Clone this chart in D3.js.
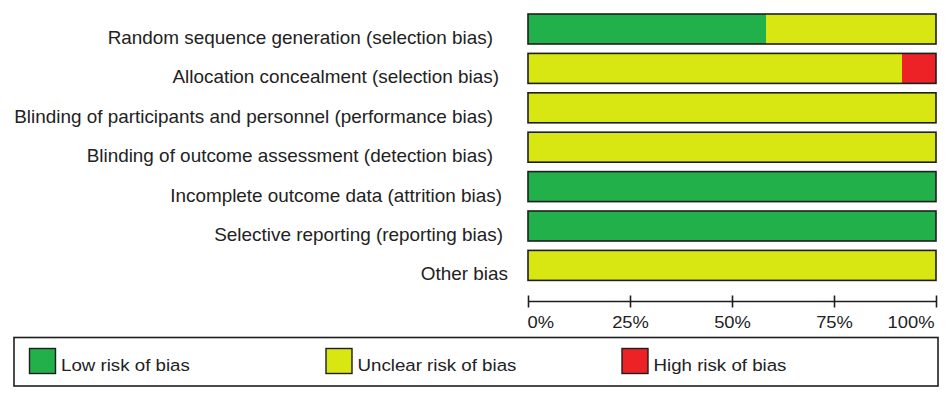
<!DOCTYPE html>
<html>
<head>
<meta charset="utf-8">
<script src="https://cdn.jsdelivr.net/npm/d3@7"></script>
<style>
  html, body { margin: 0; padding: 0; background: #fff; }
  svg { display: block; font-family: Arial, "Liberation Sans", sans-serif; }
</style>
</head>
<body>
<svg id="chart" width="947" height="401"></svg>
<script>
// ---- data ----
const domains = [
  "Random sequence generation (selection bias)",
  "Allocation concealment (selection bias)",
  "Blinding of participants and personnel (performance bias)",
  "Blinding of outcome assessment (detection bias)",
  "Incomplete outcome data (attrition bias)",
  "Selective reporting (reporting bias)",
  "Other bias"
];
const lowRisk     = [7/12, 0, 0, 0, 1, 1, 0];
const unclearRisk = [5/12, 11/12, 1, 1, 0, 0, 1];
const highRisk    = [0, 1/12, 0, 0, 0, 0, 0];
const tickValues  = [0, 0.25, 0.5, 0.75, 1];
const legendLabels = ["Low risk of bias", "Unclear risk of bias", "High risk of bias"];

// ---- layout / style ----
const colors = ["#22b04b", "#d8e612", "#ec2227"];
const labelRight = [493, 499, 493, 493, 502, 503, 508];
const stretch = 1.08;
const svg = d3.select("#chart");
svg.append("rect").attr("width", 947).attr("height", 401).attr("fill", "#fff");

const x = d3.scaleLinear().domain([0, 1]).range([528, 936]);
const y = d3.scaleBand().domain(domains).range([14, 280.4]).paddingInner(0.2386).paddingOuter(0);

const series = [lowRisk, unclearRisk, highRisk];
const rows = domains.map((d, i) => {
  let acc = 0;
  const segs = series.map((s, k) => {
    const seg = { k, x0: acc, x1: acc + s[i] };
    acc += s[i];
    return seg;
  }).filter(s => s.x1 > s.x0);
  return { name: d, segs, i };
});

const rowG = svg.selectAll("g.row").data(rows).join("g").attr("class", "row");
rowG.selectAll("rect.seg").data(d => d.segs.map(s => ({ ...s, name: d.name })))
  .join("rect").attr("class", "seg")
  .attr("x", s => x(s.x0))
  .attr("width", s => x(s.x1) - x(s.x0))
  .attr("y", s => y(s.name))
  .attr("height", y.bandwidth())
  .attr("fill", s => colors[s.k]);
rowG.append("rect")
  .attr("x", x(0)).attr("width", x(1) - x(0))
  .attr("y", d => y(d.name)).attr("height", y.bandwidth())
  .attr("fill", "none").attr("stroke", "#1e1e1e").attr("stroke-width", 1.6);
rowG.append("text")
  .attr("transform", d => `translate(${labelRight[d.i]},${y(d.name) + y.bandwidth()}) scale(${stretch},1)`)
  .attr("text-anchor", "end")
  .attr("font-size", 17.5)
  .attr("fill", "#222")
  .text(d => d.name);

// ---- axis ----
const axis = d3.axisBottom(x).tickValues(tickValues).tickFormat(d3.format(".0%")).tickSize(12).tickPadding(5);
const ax = svg.append("g").attr("transform", "translate(0,301.5)").call(axis);
ax.select(".domain").remove();
ax.append("line").attr("x1", x(0)).attr("x2", x(1)).attr("stroke", "#1e1e1e").attr("stroke-width", 1.6);
ax.selectAll(".tick line").attr("y1", -6).attr("y2", 6).attr("stroke", "#1e1e1e").attr("stroke-width", 1.6);
ax.selectAll(".tick text")
  .attr("font-size", 17)
  .attr("fill", "#222")
  .attr("font-family", "Arial, 'Liberation Sans', sans-serif")
  .attr("y", null).attr("dy", null)
  .attr("transform", (d, i) => `translate(${i === 0 ? -1 : (i === tickValues.length - 1 ? -2 : 0)},26.5) scale(${stretch},1)`)
  .attr("text-anchor", (d, i) => i === 0 ? "start" : (i === tickValues.length - 1 ? "end" : "middle"));

// ---- legend ----
svg.append("rect").attr("x", 14).attr("y", 337.5).attr("width", 924).attr("height", 48.5)
  .attr("fill", "#fff").attr("stroke", "#1e1e1e").attr("stroke-width", 1.6);
const legendX = [29.5, 326, 622];
const lg = svg.selectAll("g.leg").data(legendLabels).join("g").attr("class", "leg")
  .attr("transform", (d, i) => `translate(${legendX[i]},348.5)`);
lg.append("rect").attr("width", 26).attr("height", 25)
  .attr("fill", (d, i) => colors[i]).attr("stroke", "#1e1e1e").attr("stroke-width", 1.4);
lg.append("text").attr("transform", `translate(31.5,22.5) scale(${stretch + 0.02},1)`)
  .attr("font-size", 17).attr("fill", "#222").text(d => d);
</script>
</body>
</html>
